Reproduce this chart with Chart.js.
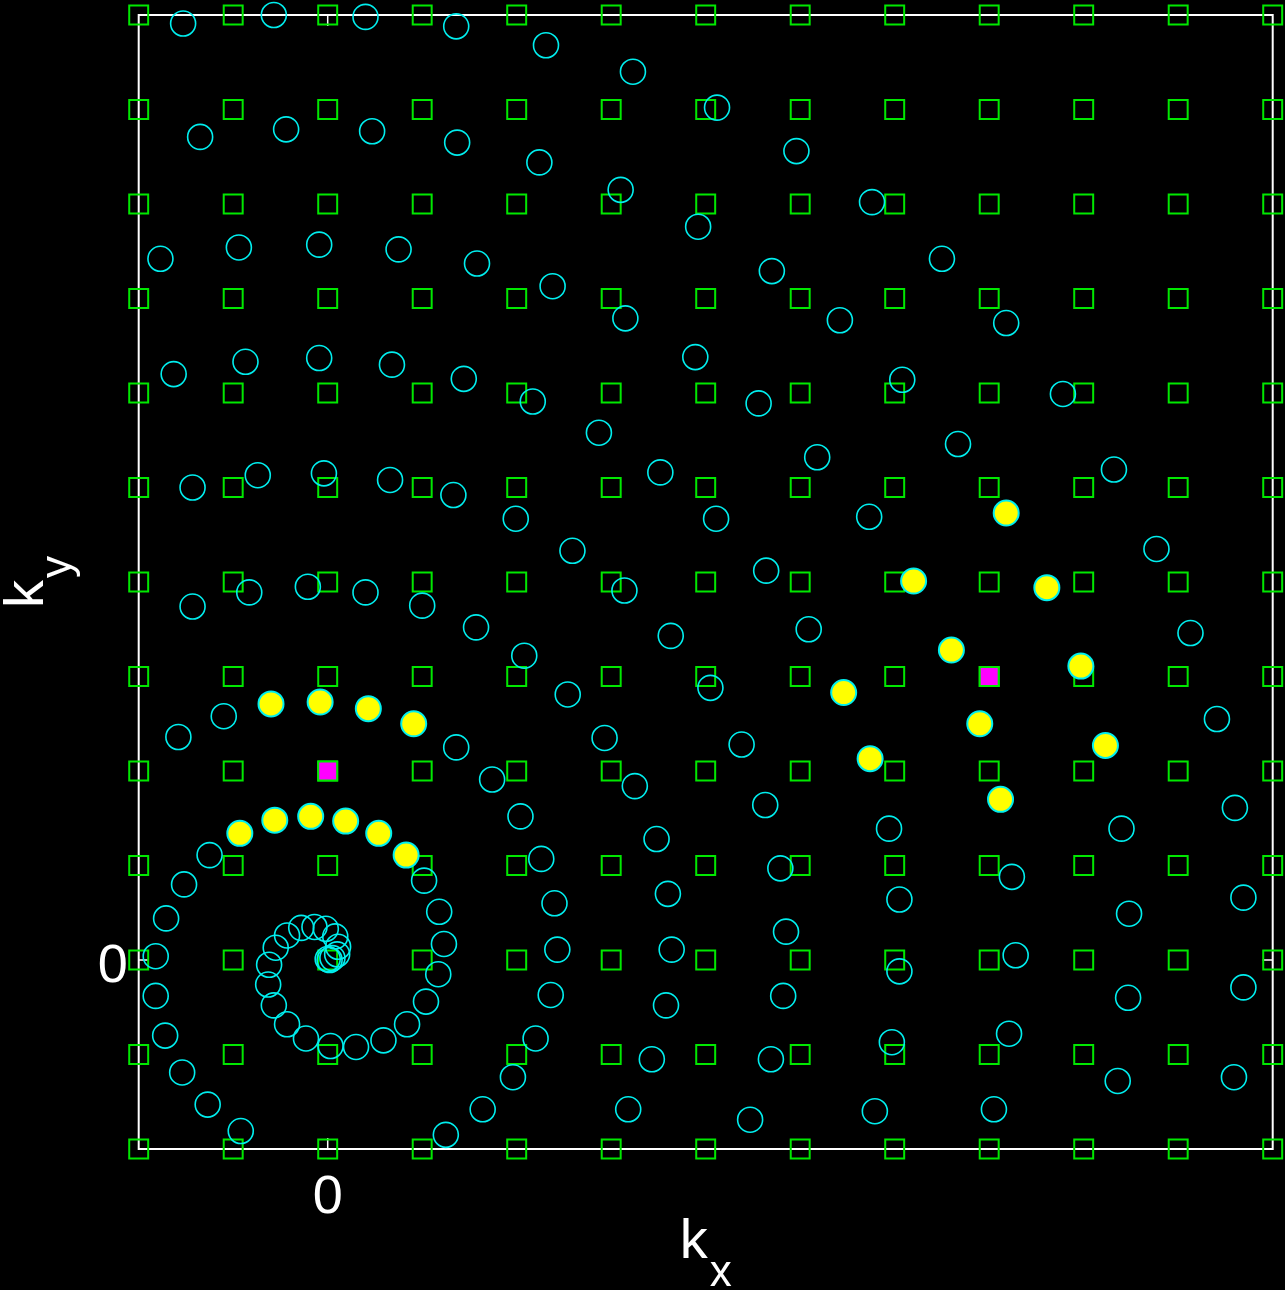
<!DOCTYPE html>
<html>
<head>
<meta charset="utf-8">
<title>k-space sampling</title>
<script src="https://cdn.jsdelivr.net/npm/chart.js@4.4.1/dist/chart.umd.min.js"></script>
<style>
  html, body { margin: 0; padding: 0; background: #000; }
  #wrap { width: 1285px; height: 1290px; }
</style>
</head>
<body>
<div id="wrap"><canvas id="kspace" width="1285" height="1290"></canvas></div>
<script>
// Cartesian lattice (green squares)
const gridX = [-2, -1, 0, 1, 2, 3, 4, 5, 6, 7, 8, 9, 10];
const gridY = [-2, -1, 0, 1, 2, 3, 4, 5, 6, 7, 8, 9, 10];

// spiral samples (cyan rings)
const sampleKx = [
  -1.53, -0.57, 0.40, 1.36, 2.31, 3.23, 4.12, -1.35, -0.44, 0.47, 1.37, 2.24, 3.10, 3.92, 4.96, 5.76, 6.50, 7.18,
  -1.77, -0.94, -0.09, 0.75, 1.58, 2.38, 3.15, 4.70, 5.42,
  -1.63, -0.87, -0.09, 0.68, 1.44, 2.17, 2.87, 3.89, 4.56, 5.18, 6.08, 7.78, 6.67, 8.32, 5.73, 8.77, 9.13,
  -1.43, -0.74, -0.04, 0.66, 1.33, 1.99, 2.59, 3.52, 4.11, 4.64, 5.09,
  -1.43, -0.83, -0.21, 0.40, 1.00, 1.57, 2.08, 3.14, 3.63,
  2.54, 4.05, 1.36, 2.93, 4.38, 1.74, 3.25, 4.63, 2.04, 3.48, 2.26, 4.79, 2.40, 3.60, 4.85, 2.43, 3.64,
  9.41, 9.60, 5.94, 8.40, 7.24, 6.05, 8.48, 9.69, 7.28, 6.05, 8.47, 9.69, 7.21, 5.97, 9.59, 8.36, 5.79, 7.05,
  -1.10, -1.58, -1.25, -1.52, -1.71, -1.82, -1.82, -1.72, -1.54, -1.27, -0.92,
  1.02, 1.18, 1.23, 1.17, 1.04, 0.84, 0.59, 0.30, 0.03, -0.23, -0.43, -0.57, -0.63, -0.62, -0.55, -0.43, -0.28,
  -0.14, -0.02, 0.08, 0.11, 0.10, 0.05, 0.02, 0.00,
  2.36, 3.58, 4.82, 2.20, 1.96, 3.43, 4.69, 1.64, 3.18, 4.47, 1.25
];
const sampleKy = [
  9.91, 10.0, 9.98, 9.88, 9.68, 9.40, 9.02, 8.71, 8.79, 8.77, 8.65, 8.44, 8.15, 7.76, 8.56, 8.02, 7.42, 6.74,
  7.42, 7.54, 7.57, 7.52, 7.37, 7.13, 6.79, 7.29, 6.77,
  6.20, 6.33, 6.37, 6.30, 6.15, 5.91, 5.58, 6.38, 5.89, 5.32, 6.14, 5.99, 5.46, 5.19, 4.69, 4.35, 3.46,
  5.00, 5.13, 5.15, 5.08, 4.92, 4.67, 4.33, 5.16, 4.67, 4.12, 3.50,
  3.74, 3.89, 3.95, 3.89, 3.75, 3.52, 3.22, 3.91, 3.43,
  2.81, 2.88, 2.25, 2.35, 2.28, 1.91, 1.84, 1.64, 1.52, 1.28, 1.07, 0.97, 0.60, 0.70, 0.30, 0.11, 0.11,
  2.55, 1.61, 1.39, 1.39, 0.88, 0.64, 0.49, 0.66, 0.05, -0.12, -0.40, -0.29, -0.78, -0.87, -1.24, -1.28, -1.60, -1.58,
  2.58, 2.36, 1.11, 0.80, 0.44, 0.04, -0.38, -0.80, -1.19, -1.53, -1.81,
  0.84, 0.51, 0.17, -0.15, -0.44, -0.68, -0.85, -0.92, -0.91, -0.83, -0.68, -0.48, -0.26, -0.05, 0.13, 0.26, 0.34,
  0.35, 0.33, 0.25, 0.14, 0.06, 0.02, 0.00, 0.01,
  -0.37, -0.48, -0.38, -0.83, -1.24, -1.05, -1.05, -1.58, -1.58, -1.69, -1.85
];

// samples picked as neighbours of the targets (yellow)
const nearKx = [-0.60, -0.08, 0.43, 0.91, -0.93, -0.56, -0.18, 0.19, 0.54, 0.83,
                7.18, 6.20, 7.61, 6.60, 7.97, 5.46, 6.90, 8.23, 5.74, 7.12];
const nearKy = [2.71, 2.73, 2.66, 2.50, 1.34, 1.48, 1.52, 1.47, 1.34, 1.11,
                4.73, 4.01, 3.94, 3.28, 3.11, 2.83, 2.50, 2.27, 2.13, 1.70];

// target grid points (magenta)
const targetKx = [0, 7];
const targetKy = [2, 3];

// ticks and titles
const xTickValues = [0];
const xTickLabels = ['0'];
const yTickValues = [0];
const yTickLabels = ['0'];
const xTitle = ['k', 'x'];
const yTitle = ['k', 'y'];

const toPoints = (xs, ys) => xs.map((v, i) => ({ x: v, y: ys[i] }));

const CYAN = 'rgb(0, 238, 238)';
const GREEN = 'rgb(0, 232, 0)';
const FONT = '"Liberation Sans", Arial, sans-serif';

// frame, ticks and labels drawn by hand (gnuplot style)
const framePlugin = {
    id: 'frame',
    beforeDatasetsDraw(chart) {
        const { ctx, chartArea: a, scales: { x, y } } = chart;
        ctx.save();
        ctx.strokeStyle = '#fff';
        ctx.lineWidth = 2;
        ctx.strokeRect(a.left, a.top, a.right - a.left, a.bottom - a.top);
        ctx.lineWidth = 1.5;
        ctx.beginPath();
        xTickValues.forEach(v => {
            const px = x.getPixelForValue(v);
            ctx.moveTo(px, a.top); ctx.lineTo(px, a.top + 11);
            ctx.moveTo(px, a.bottom); ctx.lineTo(px, a.bottom - 11);
        });
        yTickValues.forEach(v => {
            const py = y.getPixelForValue(v);
            ctx.moveTo(a.left, py); ctx.lineTo(a.left + 10, py);
            ctx.moveTo(a.right, py); ctx.lineTo(a.right - 10, py);
        });
        ctx.stroke();
        ctx.restore();
    },
    afterDraw(chart) {
        const { ctx, chartArea: a, scales: { x, y } } = chart;
        ctx.save();
        ctx.fillStyle = '#fff';
        ctx.textBaseline = 'alphabetic';

        // tick labels
        ctx.font = '54px ' + FONT;
        ctx.textAlign = 'center';
        xTickValues.forEach((v, i) => {
            ctx.fillText(xTickLabels[i], x.getPixelForValue(v), a.bottom + 64);
        });
        ctx.textAlign = 'right';
        yTickValues.forEach((v, i) => {
            ctx.fillText(yTickLabels[i], a.left - 11, y.getPixelForValue(v) + 22);
        });

        // axis titles with subscripts
        ctx.textAlign = 'left';
        const drawTitle = (parts) => {
            ctx.font = '56px ' + FONT;
            const w1 = ctx.measureText(parts[0]).width;
            ctx.font = '44px ' + FONT;
            const w2 = ctx.measureText(parts[1]).width;
            const start = -(w1 + 2 + w2) / 2;
            ctx.font = '56px ' + FONT;
            ctx.fillText(parts[0], start, 0);
            ctx.font = '44px ' + FONT;
            ctx.fillText(parts[1], start + w1 + 2, 28);
        };

        ctx.save();
        ctx.translate((a.left + a.right) / 2, a.bottom + 109);
        drawTitle(xTitle);
        ctx.restore();

        ctx.save();
        ctx.translate(a.left - 96, (a.top + a.bottom) / 2);
        ctx.rotate(-Math.PI / 2);
        drawTitle(yTitle);
        ctx.restore();

        ctx.restore();
    }
};

const ctx = document.getElementById('kspace').getContext('2d');
const kChart = new Chart(ctx, {
    type: 'scatter',
    data: {
        datasets: [
            {
                label: 'target',
                data: toPoints(targetKx, targetKy),
                pointStyle: 'rect',
                pointRadius: 13.4,
                backgroundColor: '#ff00ff',
                borderColor: GREEN,
                borderWidth: 2,
                clip: false,
                order: 1
            },
            {
                label: 'neighbours',
                data: toPoints(nearKx, nearKy),
                pointStyle: 'circle',
                pointRadius: 12.5,
                backgroundColor: '#ffff00',
                borderColor: CYAN,
                borderWidth: 2,
                clip: false,
                order: 2
            },
            {
                label: 'samples',
                data: toPoints(sampleKx, sampleKy),
                pointStyle: 'circle',
                pointRadius: 12.5,
                backgroundColor: 'rgba(0,0,0,0)',
                borderColor: CYAN,
                borderWidth: 1.6,
                clip: false,
                order: 3
            },
            {
                label: 'grid',
                data: gridY.flatMap(ky => gridX.map(kx => ({ x: kx, y: ky }))),
                pointStyle: 'rect',
                pointRadius: 13.4,
                backgroundColor: 'rgba(0,0,0,0)',
                borderColor: GREEN,
                borderWidth: 2,
                clip: false,
                order: 4
            }
        ]
    },
    options: {
        responsive: false,
        animation: false,
        events: [],
        layout: {
            autoPadding: false,
            padding: { left: 138.7, right: 12.3, top: 15, bottom: 141 }
        },
        plugins: {
            legend: { display: false },
            tooltip: { enabled: false }
        },
        scales: {
            x: { type: 'linear', min: -2, max: 10, display: false },
            y: { type: 'linear', min: -2, max: 10, display: false }
        }
    },
    plugins: [framePlugin]
});
</script>
</body>
</html>
